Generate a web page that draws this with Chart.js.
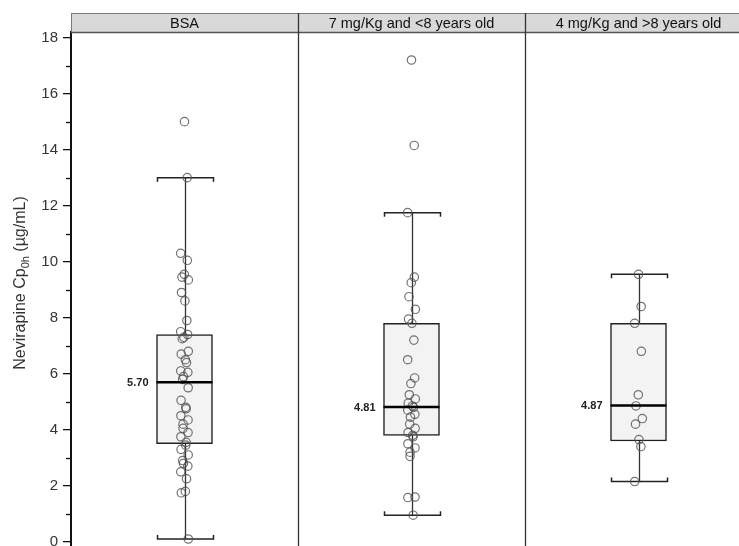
<!DOCTYPE html>
<html>
<head>
<meta charset="utf-8">
<script src="https://cdn.jsdelivr.net/npm/chart.js@4/dist/chart.umd.min.js"></script>
<style>
  html, body { margin: 0; padding: 0; background: #fff; overflow: hidden; }
  #wrap { width: 760px; height: 560px; }
</style>
</head>
<body>
<div id="wrap"><canvas id="c" width="760" height="560"></canvas></div>
<script>
// Dosing groups (one panel each)
const groups = ['BSA', '7 mg/Kg and <8 years old', '4 mg/Kg and >8 years old'];

// Individual trough concentrations (µg/mL) per group
const bsaValues = [15.0, 13.0, 10.3, 10.05, 9.55, 9.45, 9.35, 8.9, 8.6, 7.9, 7.5, 7.4, 7.3, 7.25,
  6.8, 6.7, 6.5, 6.4, 6.1, 6.05, 5.9, 5.8, 5.5, 5.05, 4.8, 4.75, 4.5, 4.35, 4.2, 4.05, 3.9, 3.75,
  3.55, 3.45, 3.3, 3.1, 2.9, 2.8, 2.7, 2.5, 2.25, 1.8, 1.75, 0.1];
const young7Values = [17.2, 14.15, 11.75, 9.45, 9.25, 8.75, 8.3, 7.95, 7.8, 7.2, 6.5, 5.85, 5.65,
  5.25, 5.1, 4.95, 4.85, 4.8, 4.7, 4.55, 4.45, 4.2, 4.05, 3.9, 3.8, 3.75, 3.5, 3.35, 3.2, 3.05,
  1.6, 1.58, 0.95];
const older4Values = [9.55, 8.4, 7.8, 6.8, 5.25, 4.85, 4.4, 4.2, 3.65, 3.4, 2.15];
const groupValues = [bsaValues, young7Values, older4Values];

// Box-plot summary per group
const whiskerLow  = [0.1, 0.95, 2.15];
const q1          = [3.5, 3.8, 3.6];
const medians     = [5.70, 4.81, 4.87];
const q3          = [7.4, 7.8, 7.8];
const whiskerHigh = [13.0, 11.75, 9.55];

// Y axis ticks
const yMajorTicks = [0, 2, 4, 6, 8, 10, 12, 14, 16, 18];
const yMinorTicks = [1, 3, 5, 7, 9, 11, 13, 15, 17];

const BOX_W = 56;
const HEADER_TOP = 13;

// small horizontal spread so overlapping circles stay visible
const spread = i => Math.sin(i * 2.37) * 0.017;

const points = [];
groupValues.forEach((vals, g) => vals.forEach((v, i) => points.push({ x: g + spread(i), y: v })));

const boxes = groups.map((_, g) => ({ x: g, y: [q1[g], q3[g]] }));

const panelPlugin = {
  id: 'panelPlugin',
  beforeDatasetsDraw(chart) {
    const { ctx, scales: { x, y } } = chart;
    ctx.save();
    groups.forEach((_, g) => {
      const cx = Math.round(x.getPixelForValue(g)) + 0.5;
      const hw = BOX_W / 2;
      const yTop = y.getPixelForValue(whiskerHigh[g]);
      const yQ3 = y.getPixelForValue(q3[g]);
      const yQ1 = y.getPixelForValue(q1[g]);
      const yLow = y.getPixelForValue(whiskerLow[g]);
      ctx.strokeStyle = '#333';
      ctx.lineWidth = 1.3;
      ctx.beginPath();
      ctx.moveTo(cx, yTop); ctx.lineTo(cx, yQ3);
      ctx.moveTo(cx, yQ1); ctx.lineTo(cx, yLow);
      ctx.stroke();
      ctx.strokeStyle = '#222';
      ctx.lineWidth = 1.5;
      ctx.beginPath();
      ctx.moveTo(cx - hw, yTop + 4); ctx.lineTo(cx - hw, yTop); ctx.lineTo(cx + hw, yTop); ctx.lineTo(cx + hw, yTop + 4);
      ctx.moveTo(cx - hw, yLow - 4); ctx.lineTo(cx - hw, yLow); ctx.lineTo(cx + hw, yLow); ctx.lineTo(cx + hw, yLow - 4);
      ctx.stroke();
    });
    ctx.restore();
  },
  afterDatasetsDraw(chart) {
    const { ctx, scales: { x, y } } = chart;
    ctx.save();
    groups.forEach((_, g) => {
      const cx = x.getPixelForValue(g);
      const hw = BOX_W / 2;
      const ym = y.getPixelForValue(medians[g]);
      ctx.strokeStyle = '#000';
      ctx.lineWidth = 2.5;
      ctx.beginPath();
      ctx.moveTo(cx - hw, ym); ctx.lineTo(cx + hw, ym);
      ctx.stroke();
      ctx.fillStyle = '#222';
      ctx.font = 'bold 11px "Liberation Sans", Arial, sans-serif';
      ctx.textAlign = 'right';
      ctx.textBaseline = 'middle';
      ctx.fillText(medians[g].toFixed(2), cx - hw - 8, ym + 1);
    });
    ctx.restore();
  },
  afterDraw(chart) {
    const { ctx, chartArea, scales: { x, y } } = chart;
    ctx.save();
    // panel headers
    groups.forEach((name, g) => {
      const x0 = x.getPixelForValue(g - 0.5);
      const x1 = x.getPixelForValue(g + 0.5);
      ctx.fillStyle = '#d9d9d9';
      ctx.fillRect(x0, HEADER_TOP, x1 - x0, chartArea.top - HEADER_TOP);
      ctx.strokeStyle = '#7a7a7a';
      ctx.lineWidth = 1;
      ctx.strokeRect(Math.round(x0) + 0.5, HEADER_TOP + 0.5, x1 - x0, chartArea.top - HEADER_TOP);
      ctx.fillStyle = '#111';
      ctx.font = '14.5px "Liberation Sans", Arial, sans-serif';
      ctx.textAlign = 'center';
      ctx.textBaseline = 'middle';
      ctx.fillText(name, (x0 + x1) / 2, (HEADER_TOP + chartArea.top) / 2 + 1);
    });
    ctx.strokeStyle = '#555';
    ctx.lineWidth = 1.3;
    ctx.beginPath();
    ctx.moveTo(chartArea.left, chartArea.top + 0.5);
    ctx.lineTo(chartArea.right, chartArea.top + 0.5);
    ctx.stroke();
    // panel separators
    ctx.strokeStyle = '#333';
    ctx.lineWidth = 1.3;
    [0.5, 1.5].forEach(v => {
      const px = Math.round(x.getPixelForValue(v)) + 0.5;
      ctx.beginPath();
      ctx.moveTo(px, HEADER_TOP);
      ctx.lineTo(px, chart.height);
      ctx.stroke();
    });
    // minor ticks
    ctx.strokeStyle = '#111';
    ctx.lineWidth = 1.3;
    yMinorTicks.forEach(v => {
      const py = Math.round(y.getPixelForValue(v)) + 0.5;
      ctx.beginPath();
      ctx.moveTo(chartArea.left - 5, py);
      ctx.lineTo(chartArea.left, py);
      ctx.stroke();
    });
    // axis title with subscript
    const fMain = '16px "Liberation Sans", Arial, sans-serif';
    const fSub = '11px "Liberation Sans", Arial, sans-serif';
    const p1 = 'Nevirapine Cp', p2 = '0h', p3 = ' (\u00b5g/mL)';
    ctx.font = fMain; const w1 = ctx.measureText(p1).width; const w3 = ctx.measureText(p3).width;
    ctx.font = fSub; const w2 = ctx.measureText(p2).width;
    const total = w1 + w2 + w3;
    ctx.translate(25, 283);
    ctx.rotate(-Math.PI / 2);
    ctx.fillStyle = '#333';
    ctx.textAlign = 'left';
    ctx.textBaseline = 'alphabetic';
    let tx = -total / 2;
    ctx.font = fMain; ctx.fillText(p1, tx, 0); tx += w1;
    ctx.font = fSub; ctx.fillText(p2, tx, 3.5); tx += w2;
    ctx.font = fMain; ctx.fillText(p3, tx, 0);
    ctx.restore();
  }
};

new Chart(document.getElementById('c'), {
  type: 'bar',
  data: {
    datasets: [
      {
        type: 'scatter',
        data: points,
        order: 0,
        pointRadius: 4.2,
        pointHoverRadius: 4.2,
        pointBorderWidth: 1.2,
        pointBorderColor: 'rgba(80,80,80,0.8)',
        pointBackgroundColor: 'rgba(0,0,0,0)',
        showLine: false
      },
      {
        type: 'bar',
        data: boxes,
        order: 1,
        barThickness: BOX_W,
        backgroundColor: '#f3f3f3',
        borderColor: '#222',
        borderWidth: 1.5,
        borderSkipped: false
      }
    ]
  },
  options: {
    responsive: false,
    animation: false,
    events: [],
    layout: { padding: { left: 0, top: 32, right: 8, bottom: 12 } },
    plugins: { legend: { display: false }, tooltip: { enabled: false } },
    scales: {
      x: { type: 'linear', min: -0.5, max: 2.5, offset: false, display: false },
      y: {
        type: 'linear',
        min: -0.15,
        max: 18.2,
        afterFit: s => { s.width = 71; },
        afterBuildTicks: s => { s.ticks = yMajorTicks.map(v => ({ value: v })); },
        ticks: {
          color: '#333',
          padding: 5,
          font: { family: '"Liberation Sans", Arial, sans-serif', size: 15 }
        },
        grid: { drawOnChartArea: false, drawTicks: true, tickLength: 8, color: '#111', lineWidth: 1.3 },
        border: { display: true, color: '#111', width: 2 }
      }
    }
  },
  plugins: [panelPlugin]
});
</script>
</body>
</html>
